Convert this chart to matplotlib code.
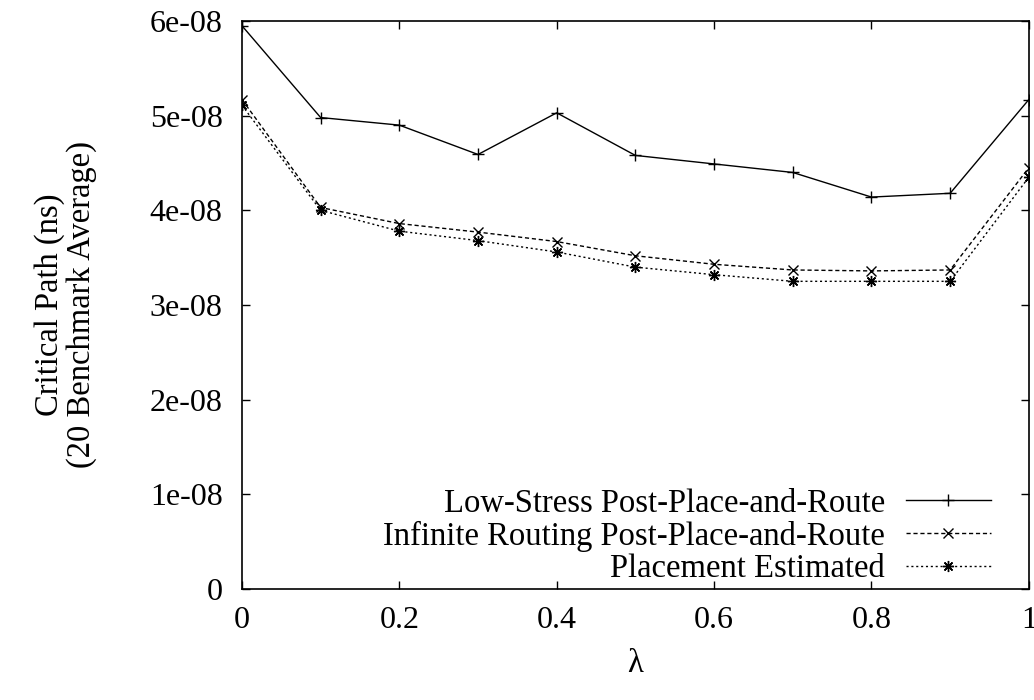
import matplotlib
matplotlib.use("Agg")
import matplotlib.pyplot as plt

lam = [0.0, 0.1, 0.2, 0.3, 0.4, 0.5, 0.6, 0.7, 0.8, 0.9, 1.0]
low_stress = [5.95e-8, 4.98e-8, 4.90e-8, 4.59e-8, 5.03e-8, 4.58e-8, 4.49e-8, 4.40e-8, 4.14e-8, 4.18e-8, 5.17e-8]
infinite = [5.17e-8, 4.03e-8, 3.86e-8, 3.77e-8, 3.67e-8, 3.52e-8, 3.43e-8, 3.37e-8, 3.36e-8, 3.37e-8, 4.45e-8]
placement = [5.11e-8, 4.00e-8, 3.78e-8, 3.68e-8, 3.56e-8, 3.40e-8, 3.32e-8, 3.25e-8, 3.25e-8, 3.25e-8, 4.35e-8]

labels = ["Low-Stress Post-Place-and-Route",
          "Infinite Routing Post-Place-and-Route",
          "Placement Estimated"]
xticks = [0, 0.2, 0.4, 0.6, 0.8, 1]
xtick_labels = ["0", "0.2", "0.4", "0.6", "0.8", "1"]
yticks = [0, 1e-8, 2e-8, 3e-8, 4e-8, 5e-8, 6e-8]
ytick_labels = ["0", "1e-08", "2e-08", "3e-08", "4e-08", "5e-08", "6e-08"]

plt.rcParams['font.family'] = ['Liberation Serif', 'DejaVu Serif']
FS = 23.5

fig = plt.figure(figsize=(10.34, 7), dpi=100)
ax = fig.add_axes([0.234, 0.1586, 0.761, 0.8114])

ax.plot(lam, low_stress, color='black', lw=1.0, marker='+', ms=8, mew=1.0,
        label=labels[0])
ax.plot(lam, infinite, color='black', lw=1.0, dashes=(3, 2), marker='x', ms=7, mew=1.0,
        label=labels[1])
ax.plot(lam, placement, color='black', lw=1.0, dashes=(1.5, 2), marker=(8, 2, 0), ms=8, mew=1.0,
        label=labels[2])

ax.set_xlim(0, 1)
ax.set_ylim(0, 6e-8)
ax.set_xticks(xticks)
ax.set_xticklabels(xtick_labels)
ax.set_yticks(yticks)
ax.set_yticklabels(ytick_labels)
ax.tick_params(direction='in', length=6, width=1.0, top=True, right=True,
               labelsize=23, colors='black')
ax.tick_params(axis='y', pad=14)
ax.tick_params(axis='x', pad=12)
for s in ax.spines.values():
    s.set_linewidth(1.2)

ax.set_xlabel("λ", fontsize=FS, labelpad=10)
ax.set_ylabel("Critical Path (ns)\n(20 Benchmark Average)", fontsize=FS,
              labelpad=38, linespacing=1.05)

leg = ax.legend(loc='lower right', bbox_to_anchor=(0.9517, 0.0088),
                frameon=False, markerfirst=False,
                fontsize=FS, handlelength=2.6, handletextpad=0.64,
                labelspacing=0.06, borderaxespad=0.0, borderpad=0.0)

fig.savefig("out.png", dpi=100)
